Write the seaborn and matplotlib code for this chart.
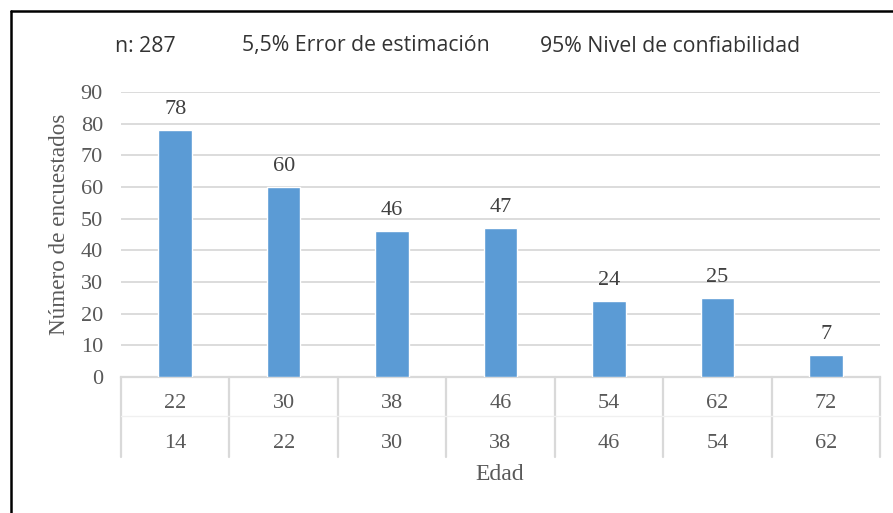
import matplotlib
matplotlib.use("Agg")
import matplotlib.pyplot as plt
import seaborn as sns
import pandas as pd
from matplotlib.lines import Line2D

# Data
edad_hasta = ["22", "30", "38", "46", "54", "62", "72"]
edad_desde = ["14", "22", "30", "38", "46", "54", "62"]
encuestados = [78, 60, 46, 47, 24, 25, 7]

df = pd.DataFrame({"grupo": [f"{a}-{b}" for a, b in zip(edad_desde, edad_hasta)],
                   "n": encuestados})

sns.set_style("white")
plt.rcParams["font.family"] = ["Liberation Serif", "DejaVu Serif"]

fig = plt.figure(figsize=(8.93, 5.13), dpi=100)
ax = fig.add_axes([121 / 893, 1 - 377 / 513, (880 - 121) / 893, (377 - 92) / 513])

sns.barplot(data=df, x="grupo", y="n", color="#5b9bd5", width=0.31,
            saturation=1, ax=ax, zorder=3)

txt_color = "#595959"
grid_color = "#d9d9d9"

ax.set_ylim(0, 90)
ax.set_yticks(range(0, 91, 10))
ax.tick_params(axis="y", labelsize=16, colors=txt_color, length=0, pad=13)
ax.yaxis.grid(True, color=grid_color, linewidth=1.3, zorder=0)
ax.set_xticks([])
ax.set_xlabel("")
ax.set_ylabel("Número de encuestados", fontsize=16.7, color=txt_color)
ax.yaxis.set_label_coords(-51 / 759, (377 - 224) / 285)
for side in ["top", "right", "left"]:
    ax.spines[side].set_visible(False)
ax.spines["bottom"].set_color(grid_color)
ax.spines["bottom"].set_linewidth(1.6)

# value labels
for p, v in zip(ax.patches, encuestados):
    ax.annotate(str(v), (p.get_x() + p.get_width() / 2, p.get_height()),
                xytext=(0, 8), textcoords="offset points", ha="center",
                va="bottom", fontsize=16, color="#404040")

# two level category axis
trans = ax.get_xaxis_transform()
n = len(encuestados)
for i in range(n):
    ax.text(i, -26 / 285, edad_hasta[i], transform=trans, ha="center",
            va="center", fontsize=16, color=txt_color)
    ax.text(i, -66 / 285, edad_desde[i], transform=trans, ha="center",
            va="center", fontsize=16, color=txt_color)
for i in range(n + 1):
    ax.plot([i - 0.5, i - 0.5], [0, -80 / 285], transform=trans,
            color=grid_color, linewidth=1.6, clip_on=False)
ax.plot([-0.5, n - 0.5], [-39 / 285, -39 / 285], transform=trans,
        color="#f0f0f0", linewidth=1, clip_on=False)
ax.set_xlim(-0.5, n - 0.5)
fig.text(500 / 893, 1 - 475 / 513, "Edad", ha="center", va="center",
         fontsize=17, color=txt_color)

# header text
hdr = dict(fontsize=15.3, color="#333333", family=["Open Sans", "DejaVu Sans"],
           va="center", ha="left")
fig.text(115 / 893, 1 - 46 / 513, "n: 287", **hdr)
fig.text(242 / 893, 1 - 46 / 513, "5,5% Error de estimación", **hdr)
fig.text(540 / 893, 1 - 46 / 513, "95% Nivel de confiabilidad", **hdr)

# outer frame (top and left only)
fig.add_artist(Line2D([11 / 893, 1], [1 - 11 / 513, 1 - 11 / 513],
                      transform=fig.transFigure, color="black", linewidth=1.8))
fig.add_artist(Line2D([11 / 893, 11 / 893], [0, 1 - 11 / 513],
                      transform=fig.transFigure, color="black", linewidth=1.8))

fig.savefig("out.png", dpi=100)
